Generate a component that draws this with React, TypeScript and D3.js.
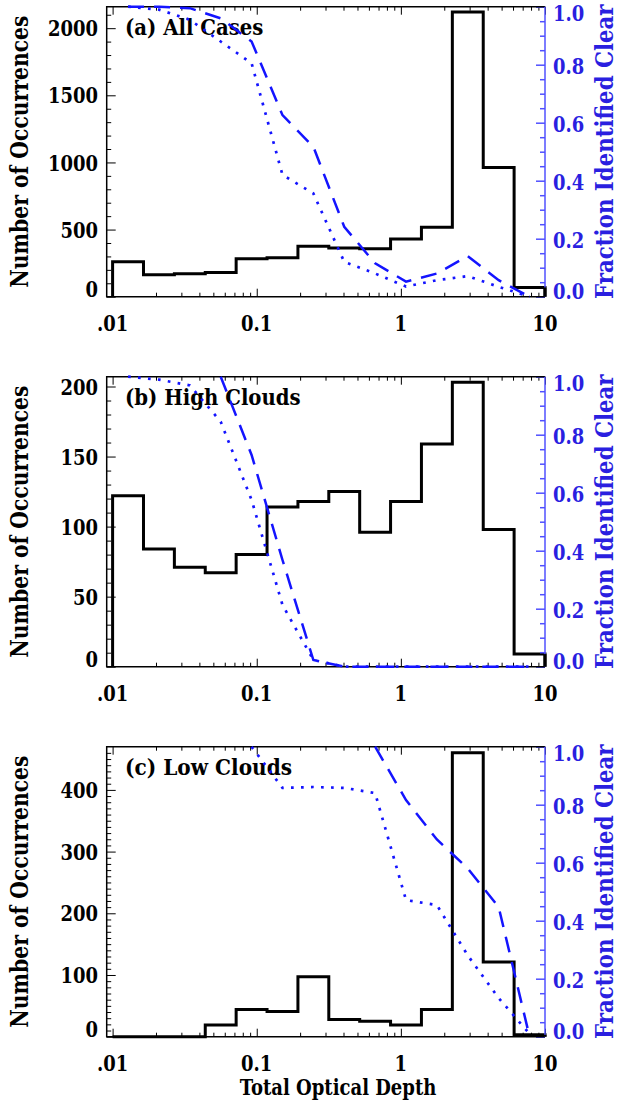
import React, { useEffect, useRef } from "react";
import * as d3 from "d3";

// histogram bins (log spaced, 14 bins from 0.01 to 10)
const binEdges = [0.01, 0.01638, 0.02683, 0.04394, 0.07197, 0.1179, 0.1931, 0.3162, 0.5179, 0.8483, 1.389, 2.276, 3.728, 6.105, 10];
const binCenters = [0.0128, 0.02097, 0.03433, 0.05623, 0.09211, 0.1509, 0.2471, 0.4047, 0.6629, 1.0857, 1.778, 2.913, 4.771, 7.814];

// (a) All Cases
const allCounts = [260, 164, 171, 181, 283, 290, 375, 362, 357, 429, 518, 2120, 962, 69];
const allDashed = [1.0, 1.0, 0.995, 0.96, 0.88, 0.626, 0.517, 0.241, 0.115, 0.052, 0.08, 0.14, 0.057, 0.0];
const allDotted = [1.0, 0.99, 0.955, 0.88, 0.805, 0.42, 0.356, 0.12, 0.08, 0.035, 0.057, 0.071, 0.034, 0.0];

// (b) High Clouds
const highCounts = [122, 84, 71, 67, 80, 114, 118, 125, 96, 118, 159, 203, 98, 9];
const highDashed = [null, null, null, 1.0, 0.73, 0.368, 0.023, 0, 0, 0, 0, 0, 0, 0];
const highDotted = [1.0, 0.99, 0.97, 0.845, 0.575, 0.213, 0.023, 0, 0, 0, 0, 0, 0, 0];

// (c) Low Clouds
const lowCounts = [0, 0, 0, 19, 44, 41, 97, 28, 25, 19, 44, 460, 121, 3];
const lowDashed = [null, null, null, null, null, null, null, null, 1.0, 0.816, 0.68, 0.58, 0.447, 0.0];
const lowDotted = [null, null, null, null, 1.0, 0.858, 0.861, 0.858, 0.84, 0.471, 0.454, 0.28, 0.133, 0.01];

const panelLabels = ["(a) All Cases", "(b) High Clouds", "(c) Low Clouds"];
const countMax = [2160, 207, 470];
const countTicks = [[0, 500, 1000, 1500, 2000], [0, 50, 100, 150, 200], [0, 100, 200, 300, 400]];
const countMinorStep = [100, 10, 10];
const fracTicks = [0, 0.2, 0.4, 0.6, 0.8, 1.0];
const fracTickLabels = ["0.0", "0.2", "0.4", "0.6", "0.8", "1.0"];
const xTicks = [0.01, 0.1, 1, 10];
const xTickLabels = [".01", "0.1", "1", "10"];

const W = 622;
const H = 1107;
const left = 106.7;
const right = 545;
const tops = [6.7, 376.7, 746.7];
const ph = 290;
const font = "DejaVu Serif";
const blue = "#1414ff";
const axisBlue = "#5050ff";
const labelBlue = "#2a1fe0";

// Times-Bold advance widths (per 1000 em), used to squeeze DejaVu Serif to Times proportions
const timesBold: Record<string, number> = {
  "0": 500, "1": 500, "2": 500, "3": 500, "4": 500, "5": 500, "6": 500, "7": 500, "8": 500, "9": 500,
  ".": 250, " ": 250, "(": 333, ")": 333,
  a: 500, b: 556, c: 444, d: 556, e: 444, f: 333, g: 500, h: 556, i: 278, l: 278, m: 833,
  n: 556, o: 500, p: 556, r: 444, s: 389, t: 333, u: 556, w: 722,
  A: 722, C: 722, D: 722, F: 611, H: 778, I: 389, L: 667, N: 722, O: 778, T: 667,
};
const timesWidth = (s: string, size: number) => (d3.sum(Array.from(s), (c) => timesBold[c] ?? 500) * size) / 1000;

type LabelOpts = { anchor?: string; rotate?: number; glyph?: number; dy?: string; fill?: string };

const App = () => {
  const svgRef = useRef<SVGSVGElement>(null);

  useEffect(() => {
    const svg = d3.select(svgRef.current);
    svg.selectAll("*").remove();

    // text drawn in DejaVu Serif, squeezed horizontally to the width Times Bold would take
    const label = (parent: any, s: string, size: number, px: number, py: number, o: LabelOpts = {}) => {
      const holder = parent.append("g");
      const t = holder
        .append("text")
        .attr("font-family", font)
        .attr("font-weight", "bold")
        .attr("font-size", o.glyph ?? size * 0.9)
        .attr("text-anchor", o.anchor ?? "start")
        .attr("dy", o.dy ?? "0")
        .attr("fill", o.fill ?? "#000")
        .text(s);
      const natural = (t.node() as SVGTextElement).getComputedTextLength();
      const sx = natural > 0 ? timesWidth(s, size) / natural : 1;
      holder.attr("transform", `translate(${px},${py}) rotate(${o.rotate ?? 0}) scale(${sx},1)`);
      return t;
    };

    const x = d3.scaleLog().domain([0.0091, 10]).range([left, right]);
    const xMinor = x.ticks().filter((t) => !xTicks.some((m) => Math.abs(m - t) / m < 1e-6));

    const panels = [
      { counts: allCounts, dashed: allDashed, dotted: allDotted },
      { counts: highCounts, dashed: highDashed, dotted: highDotted },
      { counts: lowCounts, dashed: lowDashed, dotted: lowDotted },
    ];

    panels.forEach((p, i) => {
      const top = tops[i];
      const bottom = top + ph;
      const y = d3.scaleLinear().domain([0, countMax[i]]).range([bottom, top]);
      const yr = d3.scaleLinear().domain([0, 1]).range([bottom, top]);
      const g = svg.append("g");

      // histogram steps
      const pts: [number, number][] = [[binEdges[0], 0]];
      p.counts.forEach((c, k) => {
        pts.push([binEdges[k], c], [binEdges[k + 1], c]);
      });
      pts.push([binEdges[binEdges.length - 1], 0]);
      g.append("path")
        .attr("d", d3.line<[number, number]>().x((d) => x(d[0])).y((d) => y(d[1]))(pts))
        .attr("fill", "none")
        .attr("stroke", "#000")
        .attr("stroke-width", 3)
        .attr("stroke-linejoin", "miter");

      // bottom / top ticks
      const xAxisBottom = (size: number, vals: number[]) =>
        d3.axisBottom(x).tickValues(vals).tickSize(-size).tickSizeOuter(0).tickFormat(() => "");
      const xAxisTop = (size: number, vals: number[]) =>
        d3.axisTop(x).tickValues(vals).tickSize(-size).tickSizeOuter(0).tickFormat(() => "");
      [
        [xAxisBottom(8, xTicks), bottom],
        [xAxisBottom(4, xMinor), bottom],
        [xAxisTop(8, xTicks), top],
        [xAxisTop(4, xMinor), top],
      ].forEach(([ax, yy]: any) => {
        const a = g.append("g").attr("transform", `translate(0,${yy})`).call(ax);
        a.select(".domain").remove();
        a.selectAll("line").attr("stroke", "#000").attr("stroke-width", 1);
      });

      // left ticks
      const yMinor = d3.range(0, countMax[i], countMinorStep[i]).filter((v) => !countTicks[i].includes(v));
      [
        [countTicks[i], 9],
        [yMinor, 4.5],
      ].forEach(([vals, size]: any) => {
        const a = g
          .append("g")
          .attr("transform", `translate(${left},0)`)
          .call(d3.axisLeft(y).tickValues(vals).tickSize(-size).tickSizeOuter(0).tickFormat(() => ""));
        a.select(".domain").remove();
        a.selectAll("line").attr("stroke", "#000").attr("stroke-width", 1);
      });

      // right ticks (blue)
      const fracMinor = d3.range(0.05, 1, 0.05).filter((v) => !fracTicks.some((t) => Math.abs(t - v) < 1e-6));
      [
        [fracTicks, 9],
        [fracMinor, 5],
      ].forEach(([vals, size]: any) => {
        const a = g
          .append("g")
          .attr("transform", `translate(${right},0)`)
          .call(d3.axisRight(yr).tickValues(vals).tickSize(-size).tickSizeOuter(0).tickFormat(() => ""));
        a.select(".domain").remove();
        a.selectAll("line").attr("stroke", axisBlue).attr("stroke-width", 1.5);
      });

      // frame
      g.append("path")
        .attr("d", `M${right},${top}H${left}V${bottom}H${right}`)
        .attr("fill", "none")
        .attr("stroke", "#000")
        .attr("stroke-width", 1.5);
      g.append("line")
        .attr("x1", right)
        .attr("x2", right)
        .attr("y1", top)
        .attr("y2", bottom)
        .attr("stroke", axisBlue)
        .attr("stroke-width", 1.5);
      // last bin edge drawn over the blue axis near the bottom
      g.append("line")
        .attr("x1", x(binEdges[binEdges.length - 1]))
        .attr("x2", x(binEdges[binEdges.length - 1]))
        .attr("y1", y(p.counts[p.counts.length - 1]))
        .attr("y2", bottom)
        .attr("stroke", "#000")
        .attr("stroke-width", 3);

      // left tick labels
      countTicks[i].forEach((d) => {
        label(g, String(d), 25, 98, y(d) - (d === 0 ? 8 : 0), { anchor: "end", dy: "0.36em" });
      });

      // right tick labels
      fracTicks.forEach((d, k) => {
        label(g, fracTickLabels[k], 25, 553, yr(d) + (d === 1 ? 6 : d === 0 ? -6 : 1), {
          dy: "0.36em",
          fill: labelBlue,
        });
      });

      // x tick labels
      xTicks.forEach((d, k) => {
        label(g, xTickLabels[k], 25, x(d), bottom + 26, { anchor: "middle", dy: "0.36em" });
      });

      // axis titles
      const mid = (top + bottom) / 2;
      label(g, "Number of Occurrences", 26.5, 20, mid, { anchor: "middle", rotate: -90, dy: "0.34em" });
      label(g, "Fraction Identified Clear", 27.5, 605, mid, {
        anchor: "middle",
        rotate: -90,
        dy: "0.34em",
        fill: labelBlue,
      });

      // panel label
      label(g, panelLabels[i], 25.7, 125, top + 28.5);

      // fraction lines
      const fracLine = d3
        .line<number | null>()
        .defined((d) => d != null)
        .x((d, k) => x(binCenters[k]))
        .y((d) => yr(d as number));
      g.append("path")
        .attr("d", fracLine(p.dashed))
        .attr("fill", "none")
        .attr("stroke", blue)
        .attr("stroke-width", 2.5)
        .attr("stroke-dasharray", "16 10");
      g.append("path")
        .attr("d", fracLine(p.dotted))
        .attr("fill", "none")
        .attr("stroke", blue)
        .attr("stroke-width", 2.7)
        .attr("stroke-dasharray", "2.7 7.3");
    });

    label(svg, "Total Optical Depth", 23, 338, 1087, { anchor: "middle", dy: "0.36em", glyph: 23 });
  }, []);

  return (
    <svg
      ref={svgRef}
      width={W}
      height={H}
      style={{ position: "absolute", left: 0, top: 0, display: "block", background: "#fff" }}
    />
  );
};

export default App;
